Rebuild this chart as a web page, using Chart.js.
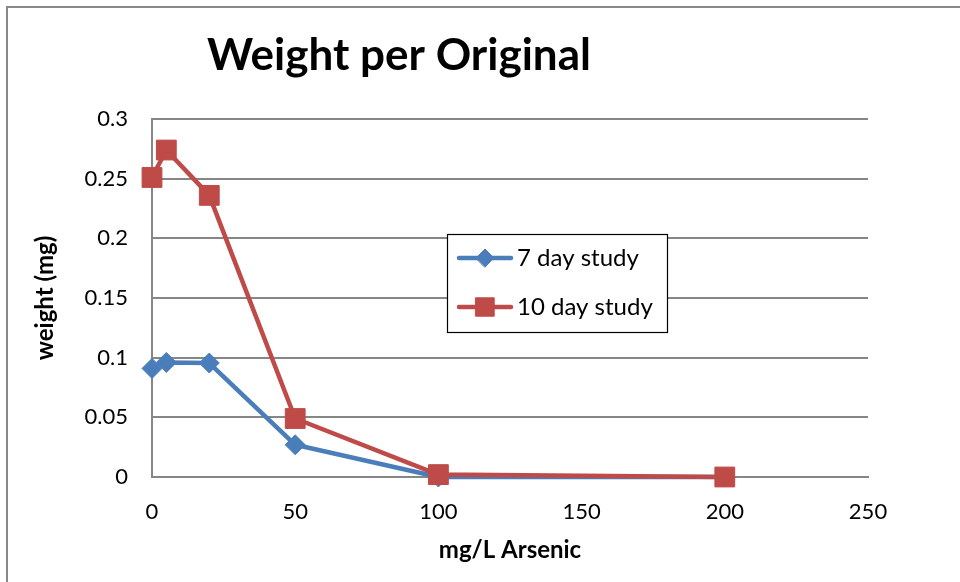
<!DOCTYPE html>
<html>
<head>
<meta charset="utf-8">
<script src="https://cdn.jsdelivr.net/npm/chart.js@4"></script>
<style>
    body { margin: 0; background: #fff; }
    #wrap { position: relative; width: 960px; height: 582px; overflow: hidden; }
    #frame {
        position: absolute; left: 6px; top: 6px; width: 1200px; height: 900px;
        border-top: 2px solid #888; border-left: 2px solid #888;
    }
    #chart { position: absolute; left: 0; top: 0; }
</style>
</head>
<body>
<div id="wrap">
    <div id="frame"></div>
    <canvas id="chart" width="960" height="582"></canvas>
</div>
<script>
// data
const arsenic    = [0, 5, 20, 50, 100, 200];
const day7       = [0.091, 0.096, 0.0955, 0.027, 0.0, 0.0];
const day10      = [0.251, 0.274, 0.236, 0.049, 0.002, 0.0];
const xTicks     = [0, 50, 100, 150, 200, 250];
const yTicks     = [0, 0.05, 0.1, 0.15, 0.2, 0.25, 0.3];
const titleText  = "Weight per Original";
const xTitle     = "mg/L Arsenic";
const yTitle     = "weight (mg)";

const BLUE = "#4A7EBB";
const RED  = "#BE4B48";
const FONT = "Lato";
const GRID = "#868686";

const toXY = ys => arsenic.map((x, i) => ({ x, y: ys[i] }));

// title drawn at the offset Excel used
const titlePlugin = {
    id: "fixedTitle",
    afterDraw(chart) {
        const ctx = chart.ctx;
        ctx.save();
        ctx.font = `bold 44px ${FONT}`;
        ctx.fillStyle = "#000";
        ctx.textAlign = "center";
        ctx.textBaseline = "middle";
        ctx.fillText(titleText, 399, 56);
        ctx.restore();
    }
};

// boxed legend floating inside the plot
const legendPlugin = {
    id: "boxLegend",
    afterDraw(chart) {
        const ctx = chart.ctx;
        const box = { x: 447, y: 234, w: 220, h: 98 };
        ctx.save();
        ctx.fillStyle = "#fff";
        ctx.fillRect(box.x, box.y, box.w, box.h);
        ctx.strokeStyle = "#000";
        ctx.lineWidth = 1.2;
        ctx.strokeRect(box.x + 0.5, box.y + 0.5, box.w, box.h);

        chart.data.datasets.forEach((ds, i) => {
            const cy = 258 + i * 49;
            ctx.strokeStyle = ds.borderColor;
            ctx.lineWidth = ds.borderWidth;
            ctx.lineCap = "round";
            ctx.beginPath();
            ctx.moveTo(459, cy);
            ctx.lineTo(511, cy);
            ctx.stroke();
            ctx.fillStyle = ds.pointBackgroundColor;
            ctx.strokeStyle = ds.pointBorderColor;
            ctx.lineWidth = 1;
            Chart.helpers.drawPoint(ctx, {
                pointStyle: ds.pointStyle,
                radius: ds.pointStyle === "rect" ? 13 : 9,
                borderWidth: 1
            }, 485, cy);

            ctx.fillStyle = "#000";
            ctx.font = `24px ${FONT}`;
            ctx.textAlign = "left";
            ctx.textBaseline = "middle";
            ctx.fillText(ds.label, 517, cy);
        });
        ctx.restore();
    }
};

new Chart(document.getElementById("chart").getContext("2d"), {
    type: "line",
    data: {
        datasets: [
            {
                label               : "7 day study",
                data                : toXY(day7),
                borderColor         : BLUE,
                backgroundColor     : BLUE,
                borderWidth         : 4.5,
                pointStyle          : "rectRot",
                pointRadius         : 10,
                pointBackgroundColor: BLUE,
                pointBorderColor    : BLUE,
                pointBorderWidth    : 1,
                tension             : 0,
                clip                : false,
                order               : 1
            },
            {
                label               : "10 day study",
                data                : toXY(day10),
                borderColor         : RED,
                backgroundColor     : RED,
                borderWidth         : 4.5,
                pointStyle          : "rect",
                pointRadius         : 14,
                pointBackgroundColor: RED,
                pointBorderColor    : RED,
                pointBorderWidth    : 1,
                tension             : 0,
                clip                : false,
                order               : 0
            }
        ]
    },
    options: {
        responsive: false,
        animation : false,
        layout    : { padding: { left: 0, top: 119, right: 92, bottom: 0 } },
        plugins   : { legend: { display: false }, tooltip: { enabled: false }, title: { display: false } },
        elements  : { line: { borderJoinStyle: "round", borderCapStyle: "round" } },
        scales: {
            x: {
                type  : "linear",
                min   : 0,
                max   : 250,
                afterBuildTicks: s => { s.ticks = xTicks.map(v => ({ value: v })); },
                afterFit: s => { s.height = 105; },
                grid  : { display: false, drawTicks: false },
                border: { color: GRID, width: 2 },
                ticks : { color: "#000", font: { family: FONT, size: 22 }, padding: 22 },
                title : { display: true, text: xTitle, color: "#000",
                          font: { family: FONT, size: 24, weight: "bold" }, padding: { top: 0, bottom: 17 } }
            },
            y: {
                min   : 0,
                max   : 0.3,
                afterBuildTicks: s => { s.ticks = yTicks.map(v => ({ value: v })); },
                afterFit: s => { s.width = 152; },
                grid  : { color: GRID, lineWidth: 2, drawTicks: false },
                border: { color: GRID, width: 2 },
                ticks : { color: "#000", font: { family: FONT, size: 22 }, padding: 24,
                          callback: v => String(Math.round(v * 100) / 100) },
                title : { display: true, text: yTitle, color: "#000",
                          font: { family: FONT, size: 24, weight: "bold" }, padding: { top: 31, bottom: 0 } }
            }
        }
    },
    plugins: [titlePlugin, legendPlugin]
});
</script>
</body>
</html>
